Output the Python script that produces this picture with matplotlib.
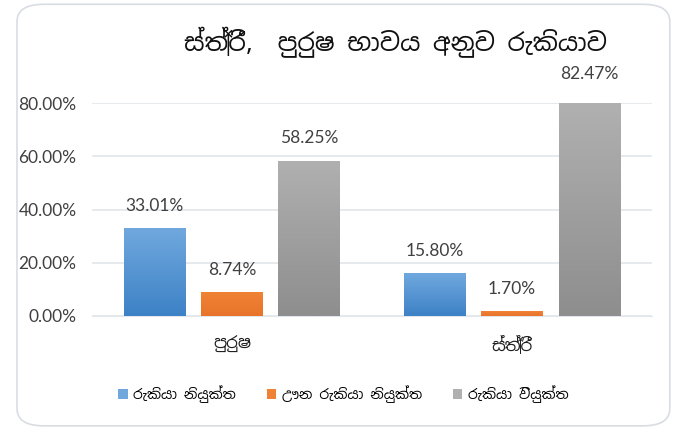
import numpy as np
import matplotlib
matplotlib.use("Agg")
import matplotlib.pyplot as plt
from matplotlib.patches import FancyBboxPatch
from matplotlib import font_manager

# values
categories = ["පුරුෂ", "ස්ත්‍රී"]
series = ["රැකියා නියුක්ත", "ඌන රැකියා නියුක්ත", "රැකියා වියුක්ත"]
employed = [0.3301, 0.1580]
underemployed = [0.0874, 0.0170]
unemployed = [0.5825, 0.8247]
yticks = [0.0, 0.2, 0.4, 0.6, 0.8]
title = "ස්ත්‍රී,  පුරුෂ භාවය අනුව රැකියාව"

# pick a font with Sinhala glyphs if one exists
sinhala = None
for f in font_manager.fontManager.ttflist:
    if "Sinhala" in f.name or "Iskoola" in f.name:
        sinhala = f.name
        break
fams = ([sinhala] if sinhala else []) + ["Lato", "DejaVu Sans"]
numfam = ["Lato", "DejaVu Sans"]
plt.rcParams["font.family"] = fams

colors_top = ["#70a8de", "#f08236", "#b0b0b0"]
colors_bot = ["#3d82c6", "#e8742a", "#8e8e8e"]
data = [employed, underemployed, unemployed]

fig = plt.figure(figsize=(6.8, 4.28), dpi=100)
fig.patch.set_facecolor("white")
fig.patches.append(FancyBboxPatch((0.025, 0.005), 0.96, 0.985, boxstyle="round,pad=0,rounding_size=0.04",
                                  transform=fig.transFigure, fill=False, ec="#d9dde3", lw=1.2))

ax = fig.add_axes([0.135, 0.2617, 0.824, 0.4973])

x = np.arange(len(categories)) + 0.5
width = 0.22
step = 0.276
for i, vals in enumerate(data):
    for j, v in enumerate(vals):
        cx = x[j] + (i - 1) * step
        top = min(v, 0.8)
        grad = np.linspace(0, 1, 100).reshape(-1, 1)
        cmap = matplotlib.colors.LinearSegmentedColormap.from_list("g", [colors_bot[i], colors_top[i]])
        ax.imshow(grad, extent=(cx - width / 2, cx + width / 2, 0, top), origin="lower",
                  cmap=cmap, aspect="auto", zorder=3, clip_on=False)
        ax.text(cx, v + 0.055, f"{v * 100:.2f}%", ha="center", va="bottom",
                fontsize=12.5, color="#404040", clip_on=False, family=numfam)
    ax.bar([0], [0], color=colors_top[i], label=series[i])

ax.set_xlim(0, 2)
ax.set_ylim(0, 0.8)
ax.set_yticks(yticks)
ax.set_yticklabels([f"{t * 100:.2f}%" for t in yticks], fontsize=12.5, color="#404040", family=numfam)
ax.set_xticks(x)
ax.set_xticklabels(categories, fontsize=12, color="#202020")
ax.tick_params(axis="y", length=0, pad=11)
ax.tick_params(axis="x", length=0, pad=14)
ax.grid(axis="y", color="#e3e6ea", lw=1.2, zorder=0)
ax.set_axisbelow(True)
for s in ax.spines.values():
    s.set_visible(False)
ax.spines["bottom"].set_visible(True)
ax.spines["bottom"].set_color("#e3e6ea")

fig.text(0.582, 0.9, title, ha="center", va="center", fontsize=18, color="#111111")

handles, labels = ax.get_legend_handles_labels()
fig.legend(handles, labels, loc="center", bbox_to_anchor=(0.505, 0.08), ncol=3, frameon=False,
           fontsize=10, handlelength=0.7, handleheight=0.7, columnspacing=2.2, handletextpad=0.4)

fig.savefig("out.png", dpi=100)
